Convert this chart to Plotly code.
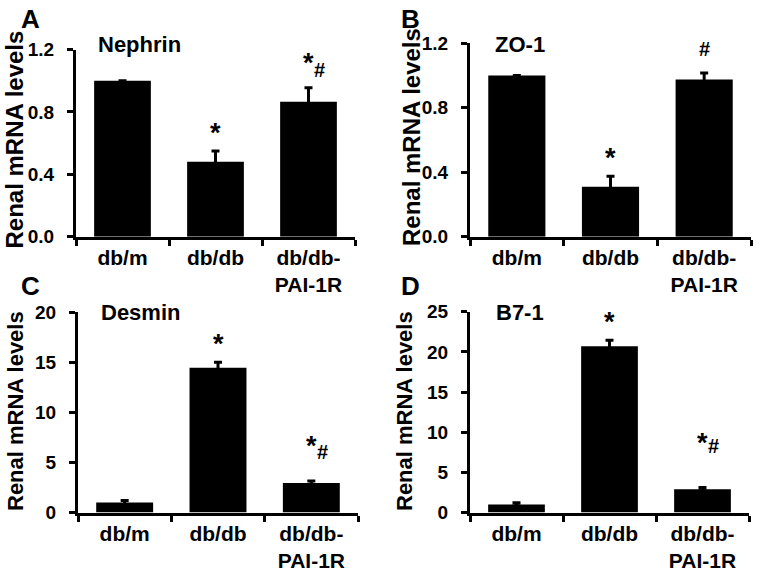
import plotly.graph_objects as go

W, H = 761, 571
FONT = "Liberation Sans, Arial, Helvetica, sans-serif"

# ---------------- data ----------------
groups = ["db/m", "db/db", "db/db-<br>PAI-1R"]
genes = ["Nephrin", "ZO-1", "Desmin", "B7-1"]
letters = ["A", "B", "C", "D"]

nephrin_mean = [1.0, 0.48, 0.865]
nephrin_err = [0.0, 0.07, 0.09]
zo1_mean = [1.0, 0.31, 0.975]
zo1_err = [0.0, 0.065, 0.04]
desmin_mean = [1.0, 14.45, 2.95]
desmin_err = [0.2, 0.55, 0.2]
b71_mean = [1.0, 20.7, 2.9]
b71_err = [0.2, 0.75, 0.2]

nephrin_sig = ["", "*", "*#"]
zo1_sig = ["", "*", "#"]
desmin_sig = ["", "*", "*#"]
b71_sig = ["", "*", "*#"]

ticks_01 = [0.0, 0.4, 0.8, 1.2]
ticks_01_text = ["0.0", "0.4", "0.8", "1.2"]
ticks_20 = [0, 5, 10, 15, 20]
ticks_25 = [0, 5, 10, 15, 20, 25]
y_title = "Renal mRNA levels"

means = [nephrin_mean, zo1_mean, desmin_mean, b71_mean]
errs = [nephrin_err, zo1_err, desmin_err, b71_err]
sigs = [nephrin_sig, zo1_sig, desmin_sig, b71_sig]
yticks = [ticks_01, ticks_01, ticks_20, ticks_25]
yticktext = [ticks_01_text, ticks_01_text, [str(v) for v in ticks_20], [str(v) for v in ticks_25]]

# ---------------- layout geometry (pixels) ----------------
# (x_left, x_right, y_top, y_bottom) of each plot area
boxes = [(76, 355, 49.5, 236.7), (470, 751, 43.3, 236.7),
         (78, 358, 312.3, 512.5), (470, 749, 311.7, 512.5)]
# per-panel vertical shifts for "*" and "#" of the combined "*#" mark
star2_shift = [8, 0, 18, 28]
hash2_shift = [5, 0, 16, 29]
title_pos = [(14, 139.5, 24), (411, 137, 24), (15, 411, 22), (404, 411, 22)]
letter_pos = [(19, 18.7), (399, 19), (19, 286), (399, 286)]
gene_pos = [(95.5, 44.2), (492.5, 44.2), (99, 312.5), (494, 312.5)]


def px(x):
    return x / W


def py(y):
    return 1 - y / H


fig = go.Figure()
annotations = []
layout = {}

for i in range(4):
    n = i + 1
    xs = "" if n == 1 else str(n)
    xl, xr, yt, yb = boxes[i]
    ymax = yticks[i][-1]
    fig.add_trace(go.Bar(
        x=groups, y=means[i], width=0.61,
        marker=dict(color="black", line=dict(width=0)),
        error_y=dict(type="data", array=errs[i], visible=True,
                     color="black", thickness=3, width=4),
        xaxis="x" + xs, yaxis="y" + xs, showlegend=False,
    ))
    layout["xaxis" + xs] = dict(
        domain=[px(xl), px(xr)], anchor="y" + xs, type="category",
        range=[-0.5, 2.5], tickson="boundaries", ticks="outside",
        ticklen=6, tickwidth=3, tickcolor="black", automargin=False,
        ticklabelstandoff=0,
        showline=True, linewidth=3, linecolor="black", showgrid=False,
        tickfont=dict(family=FONT, size=21, color="black", weight="bold"),
        fixedrange=True,
    )
    layout["yaxis" + xs] = dict(
        domain=[py(yb), py(yt)], anchor="x" + xs, range=[0, ymax],
        tickvals=yticks[i], ticktext=yticktext[i], ticks="outside",
        ticklen=6, tickwidth=3, tickcolor="black", ticklabelstandoff=9,
        showline=True, linewidth=3, linecolor="black", showgrid=False,
        zeroline=False, automargin=False,
        tickfont=dict(family=FONT, size=19, color="black", weight="bold"),
    )
    # overlay axes giving the inner half of the crossing ticks
    ox = str(n + 4)
    layout["xaxis" + ox] = dict(
        overlaying="x" + xs, anchor="y" + xs, range=[-0.5, 2.5],
        tickvals=[0.5, 1.5, 2.5], ticks="inside", ticklen=6, tickwidth=3,
        tickcolor="black", showline=False, showticklabels=False,
        showgrid=False, zeroline=False, automargin=False,
    )
    layout["yaxis" + ox] = dict(
        overlaying="y" + xs, anchor="x" + xs, side="left", range=[0, ymax],
        tickvals=yticks[i], ticks="inside", ticklen=6, tickwidth=3,
        tickcolor="black", showline=False, showticklabels=False,
        showgrid=False, zeroline=False, automargin=False,
    )

    # significance marks
    for j, s in enumerate(sigs[i]):
        top = means[i][j] + errs[i][j]
        common = dict(x=groups[j], y=top, xref="x" + xs, yref="y" + xs,
                      showarrow=False, yanchor="bottom")
        if s == "*":
            annotations.append(dict(text="*", yshift=1,
                                    font=dict(family=FONT, size=27, color="black", weight="bold"),
                                    **common))
        elif s == "#":
            annotations.append(dict(text="#", yshift=11,
                                    font=dict(family=FONT, size=20, color="black", weight="bold"),
                                    **common))
        elif s == "*#":
            annotations.append(dict(text="*", yshift=star2_shift[i],
                                    font=dict(family=FONT, size=27, color="black", weight="bold"),
                                    **common))
            annotations.append(dict(text="#", yshift=hash2_shift[i], xshift=11,
                                    font=dict(family=FONT, size=20, color="black", weight="bold"),
                                    **common))

    # y axis title
    tx, ty, ts = title_pos[i]
    annotations.append(dict(text=y_title, x=px(tx), y=py(ty), xref="paper", yref="paper",
                            showarrow=False, textangle=-90, xanchor="center", yanchor="middle",
                            font=dict(family=FONT, size=ts, color="black", weight="bold")))
    # panel letter
    lx, ly = letter_pos[i]
    annotations.append(dict(text=letters[i], x=px(lx), y=py(ly), xref="paper", yref="paper",
                            showarrow=False, xanchor="left", yanchor="middle",
                            font=dict(family=FONT, size=26, color="black", weight="bold")))
    # gene label
    gx, gy = gene_pos[i]
    annotations.append(dict(text=genes[i], x=px(gx), y=py(gy), xref="paper", yref="paper",
                            showarrow=False, xanchor="left", yanchor="middle",
                            font=dict(family=FONT, size=22, color="black", weight="bold")))

fig.update_layout(
    template="none",
    width=W, height=H, margin=dict(l=0, r=0, t=0, b=0, pad=0),
    paper_bgcolor="white", plot_bgcolor="white",
    annotations=annotations, **layout,
)

fig.write_html(
    "out.html",
    config={"displayModeBar": False},
    post_script="document.body.style.margin='0';document.body.style.overflow='hidden';",
)
